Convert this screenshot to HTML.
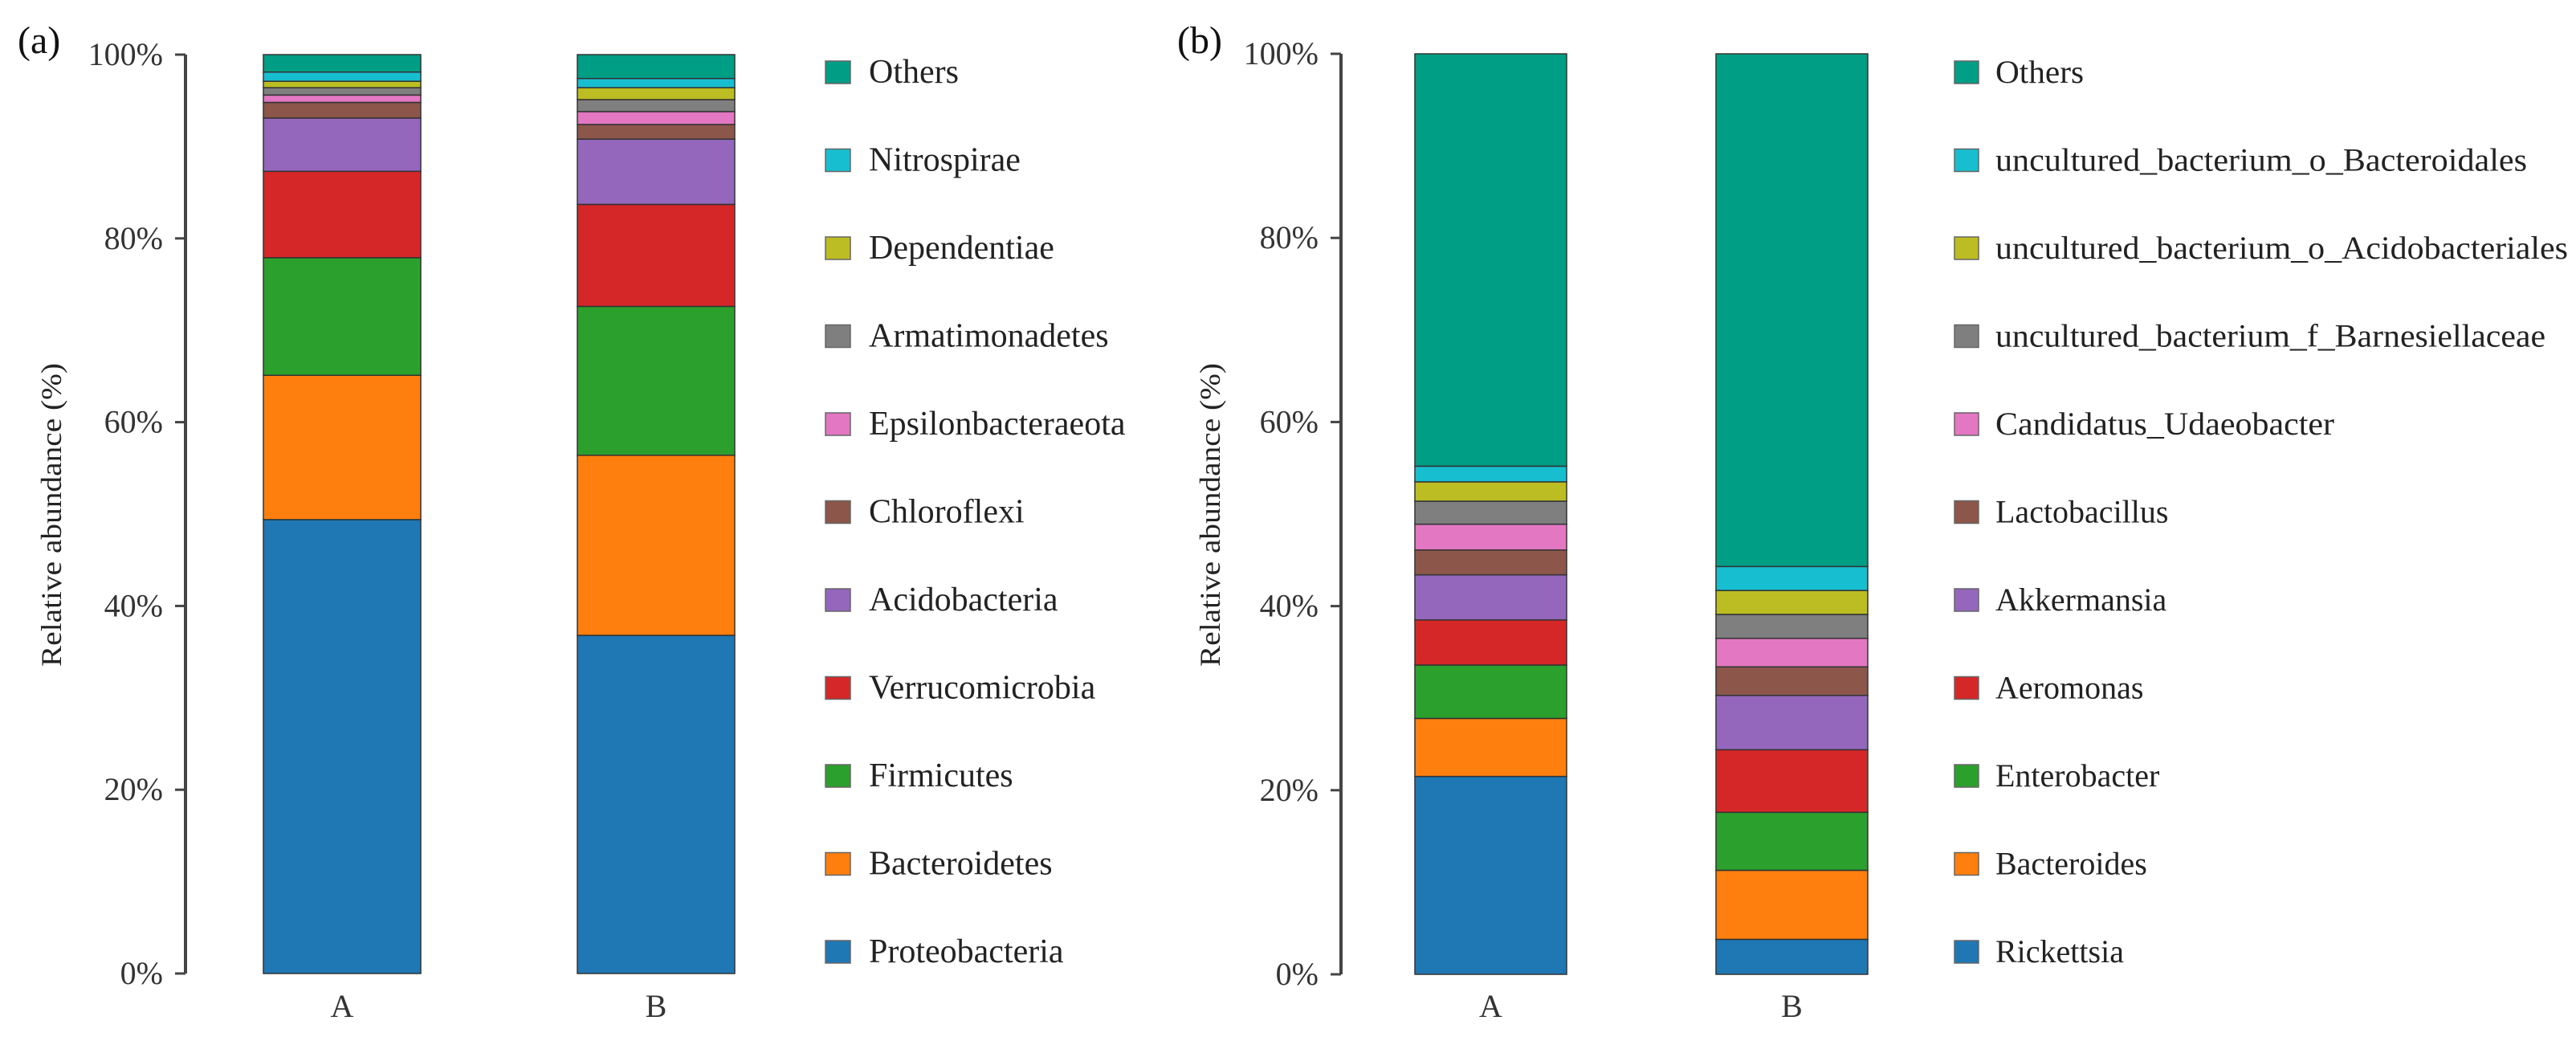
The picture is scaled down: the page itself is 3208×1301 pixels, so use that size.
<!DOCTYPE html>
<html><head><meta charset="utf-8"><style>
html,body{margin:0;padding:0;background:#fff;}
svg{display:block;font-family:"Liberation Serif",serif;}
</style></head><body>
<svg id="chart" width="3208" height="1301" viewBox="0 0 3208 1301" xmlns="http://www.w3.org/2000/svg"></svg>
<script>
// Panel (a) data (bottom to top)
const catsA = ["Proteobacteria","Bacteroidetes","Firmicutes","Verrucomicrobia","Acidobacteria","Chloroflexi","Epsilonbacteraeota","Armatimonadetes","Dependentiae","Nitrospirae","Others"];
const aSampleA = [49.4,15.7,12.8,9.4,5.8,1.7,0.8,0.8,0.7,1.0,1.9];
const aSampleB = [36.8,19.6,16.2,11.1,7.1,1.6,1.4,1.3,1.3,1.0,2.6];
// Panel (b) data (bottom to top)
const catsB = ["Rickettsia","Bacteroides","Enterobacter","Aeromonas","Akkermansia","Lactobacillus","Candidatus_Udaeobacter","uncultured_bacterium_f_Barnesiellaceae","uncultured_bacterium_o_Acidobacteriales","uncultured_bacterium_o_Bacteroidales","Others"];
const bSampleA = [21.5,6.3,5.8,4.9,4.9,2.7,2.8,2.5,2.1,1.7,44.8];
const bSampleB = [3.8,7.5,6.3,6.8,5.9,3.1,3.1,2.6,2.6,2.6,55.7];
const samples = ["A","B"];
const tickVals = [0,20,40,60,80,100];
const colors = ["#1f77b4","#ff7f0e","#2ca02c","#d62728","#9467bd","#8c564b","#e377c2","#7f7f7f","#bcbd22","#17becf","#009e84"];

const NS="http://www.w3.org/2000/svg";
const svg=document.getElementById('chart');
function mk(tag,attrs,parent){const e=document.createElementNS(NS,tag);for(const k in attrs)e.setAttribute(k,attrs[k]);(parent||svg).appendChild(e);return e;}

function panel(cfg){
  const g=mk('g',{});
  
  
  const y=v=>cfg.y0-(v/100)*(cfg.y0-cfg.y1);
  // axis
  const ax=mk('line',{x1:cfg.axisX,x2:cfg.axisX,y1:y(0),y2:y(100),stroke:'#444','stroke-width':4},g);
  
  
  tickVals.forEach(v=>{
    const t=mk('line',{x1:cfg.axisX-13,x2:cfg.axisX,y1:y(v),y2:y(v),stroke:'#444','stroke-width':3},g);
    
    
    const l=mk('text',{x:cfg.axisX-28,y:y(v)+13,'text-anchor':'end','font-size':40,fill:'#333'},g);
    l.textContent=v+'%';
    
    
  });
  const yt=mk('text',{x:cfg.titleX,y:641,'text-anchor':'middle','font-size':36,fill:'#222',transform:`rotate(-90 ${cfg.titleX} 641)`,textLength:378,lengthAdjust:'spacingAndGlyphs'},g);
  yt.textContent='Relative abundance (%)';
  
  
  const pl=mk('text',{x:cfg.labelX,y:66,'font-size':48,fill:'#111'},g);
  pl.textContent=cfg.label;
  
  
  // bars
  cfg.series.forEach((vals,si)=>{
    let acc=0;
    const bx=cfg.barX[si];
    vals.forEach((v,i)=>{
      const r=mk('rect',{x:bx,y:y(acc+v),width:cfg.barW,height:y(acc)-y(acc+v),fill:colors[i],stroke:'#333','stroke-width':1.5},g);
      
      
      acc+=v;
    });
    const xl=mk('text',{x:bx+cfg.barW/2,y:1266,'text-anchor':'middle','font-size':40,fill:'#333'},g);
    xl.textContent=samples[si];
    
    
  });
  // legend
  const n=cfg.cats.length;
  for(let k=0;k<n;k++){
    const i=n-1-k;
    const cy=90+k*109.5;
    const sw=mk('rect',{x:cfg.legX,y:cy-14,width:cfg.swW,height:28,fill:colors[i],stroke:'#666','stroke-width':1.5},g);
    
    
    const attrs={x:cfg.legTextX,y:cy+13,'font-size':cfg.legFont,fill:'#222'};
    if(cfg.legLen && cfg.legLen[cfg.cats[i]]){attrs.textLength=cfg.legLen[cfg.cats[i]];attrs.lengthAdjust='spacingAndGlyphs';}
    const lt=mk('text',attrs,g);
    lt.textContent=cfg.cats[i];
    
    
  }
}

panel({name:'panel-a',label:'(a)',labelX:22,axisX:231,titleX:76,y0:1212,y1:68,barX:[328,719],barW:196,
  series:[aSampleA,aSampleB],cats:catsA,legX:1028,swW:31,legTextX:1082,legFont:42});
panel({name:'panel-b',label:'(b)',labelX:1466,axisX:1670,titleX:1519,y0:1213,y1:67,barX:[1762,2137],barW:189,
  series:[bSampleA,bSampleB],cats:catsB,legX:2434,swW:30,legTextX:2485,legFont:40,
  legLen:{"Others":110,"uncultured_bacterium_o_Bacteroidales":662,"uncultured_bacterium_o_Acidobacteriales":713,"uncultured_bacterium_f_Barnesiellaceae":685,"Candidatus_Udaeobacter":422}});
</script>
</body></html>
